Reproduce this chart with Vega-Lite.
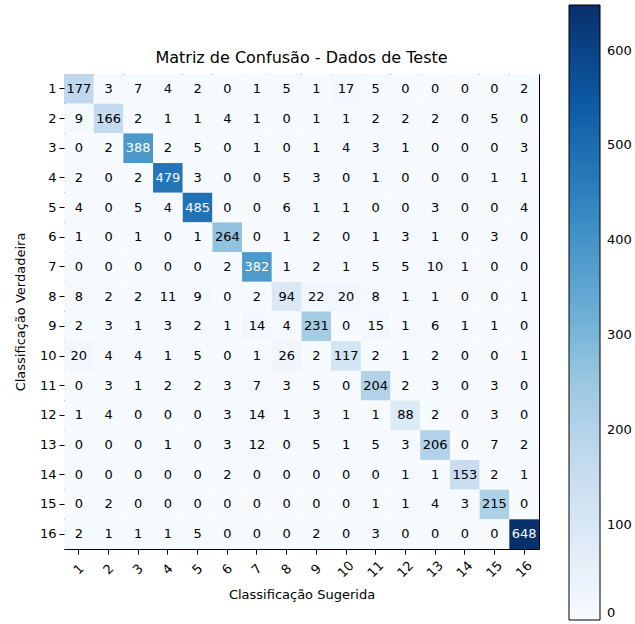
{
  "$schema": "https://vega.github.io/schema/vega-lite/v6.json",
  "autosize": "none",
  "width": 475,
  "height": 475,
  "padding": {"left": 64, "top": 74, "right": 96, "bottom": 75},
  "background": "white",
  "config": {
    "font": "DejaVu Sans",
    "view": {"stroke": "black", "strokeWidth": 1}
  },
  "title": {"text": "Matriz de Confusão - Dados de Teste", "fontSize": 16, "fontWeight": "normal", "color": "black", "offset": -61, "anchor": "middle", "frame": "group"},
  "data": {"values": [
    {"t":1,"p":1,"v":177},{"t":1,"p":2,"v":3},{"t":1,"p":3,"v":7},{"t":1,"p":4,"v":4},{"t":1,"p":5,"v":2},{"t":1,"p":6,"v":0},{"t":1,"p":7,"v":1},{"t":1,"p":8,"v":5},{"t":1,"p":9,"v":1},{"t":1,"p":10,"v":17},{"t":1,"p":11,"v":5},{"t":1,"p":12,"v":0},{"t":1,"p":13,"v":0},{"t":1,"p":14,"v":0},{"t":1,"p":15,"v":0},{"t":1,"p":16,"v":2},
    {"t":2,"p":1,"v":9},{"t":2,"p":2,"v":166},{"t":2,"p":3,"v":2},{"t":2,"p":4,"v":1},{"t":2,"p":5,"v":1},{"t":2,"p":6,"v":4},{"t":2,"p":7,"v":1},{"t":2,"p":8,"v":0},{"t":2,"p":9,"v":1},{"t":2,"p":10,"v":1},{"t":2,"p":11,"v":2},{"t":2,"p":12,"v":2},{"t":2,"p":13,"v":2},{"t":2,"p":14,"v":0},{"t":2,"p":15,"v":5},{"t":2,"p":16,"v":0},
    {"t":3,"p":1,"v":0},{"t":3,"p":2,"v":2},{"t":3,"p":3,"v":388},{"t":3,"p":4,"v":2},{"t":3,"p":5,"v":5},{"t":3,"p":6,"v":0},{"t":3,"p":7,"v":1},{"t":3,"p":8,"v":0},{"t":3,"p":9,"v":1},{"t":3,"p":10,"v":4},{"t":3,"p":11,"v":3},{"t":3,"p":12,"v":1},{"t":3,"p":13,"v":0},{"t":3,"p":14,"v":0},{"t":3,"p":15,"v":0},{"t":3,"p":16,"v":3},
    {"t":4,"p":1,"v":2},{"t":4,"p":2,"v":0},{"t":4,"p":3,"v":2},{"t":4,"p":4,"v":479},{"t":4,"p":5,"v":3},{"t":4,"p":6,"v":0},{"t":4,"p":7,"v":0},{"t":4,"p":8,"v":5},{"t":4,"p":9,"v":3},{"t":4,"p":10,"v":0},{"t":4,"p":11,"v":1},{"t":4,"p":12,"v":0},{"t":4,"p":13,"v":0},{"t":4,"p":14,"v":0},{"t":4,"p":15,"v":1},{"t":4,"p":16,"v":1},
    {"t":5,"p":1,"v":4},{"t":5,"p":2,"v":0},{"t":5,"p":3,"v":5},{"t":5,"p":4,"v":4},{"t":5,"p":5,"v":485},{"t":5,"p":6,"v":0},{"t":5,"p":7,"v":0},{"t":5,"p":8,"v":6},{"t":5,"p":9,"v":1},{"t":5,"p":10,"v":1},{"t":5,"p":11,"v":0},{"t":5,"p":12,"v":0},{"t":5,"p":13,"v":3},{"t":5,"p":14,"v":0},{"t":5,"p":15,"v":0},{"t":5,"p":16,"v":4},
    {"t":6,"p":1,"v":1},{"t":6,"p":2,"v":0},{"t":6,"p":3,"v":1},{"t":6,"p":4,"v":0},{"t":6,"p":5,"v":1},{"t":6,"p":6,"v":264},{"t":6,"p":7,"v":0},{"t":6,"p":8,"v":1},{"t":6,"p":9,"v":2},{"t":6,"p":10,"v":0},{"t":6,"p":11,"v":1},{"t":6,"p":12,"v":3},{"t":6,"p":13,"v":1},{"t":6,"p":14,"v":0},{"t":6,"p":15,"v":3},{"t":6,"p":16,"v":0},
    {"t":7,"p":1,"v":0},{"t":7,"p":2,"v":0},{"t":7,"p":3,"v":0},{"t":7,"p":4,"v":0},{"t":7,"p":5,"v":0},{"t":7,"p":6,"v":2},{"t":7,"p":7,"v":382},{"t":7,"p":8,"v":1},{"t":7,"p":9,"v":2},{"t":7,"p":10,"v":1},{"t":7,"p":11,"v":5},{"t":7,"p":12,"v":5},{"t":7,"p":13,"v":10},{"t":7,"p":14,"v":1},{"t":7,"p":15,"v":0},{"t":7,"p":16,"v":0},
    {"t":8,"p":1,"v":8},{"t":8,"p":2,"v":2},{"t":8,"p":3,"v":2},{"t":8,"p":4,"v":11},{"t":8,"p":5,"v":9},{"t":8,"p":6,"v":0},{"t":8,"p":7,"v":2},{"t":8,"p":8,"v":94},{"t":8,"p":9,"v":22},{"t":8,"p":10,"v":20},{"t":8,"p":11,"v":8},{"t":8,"p":12,"v":1},{"t":8,"p":13,"v":1},{"t":8,"p":14,"v":0},{"t":8,"p":15,"v":0},{"t":8,"p":16,"v":1},
    {"t":9,"p":1,"v":2},{"t":9,"p":2,"v":3},{"t":9,"p":3,"v":1},{"t":9,"p":4,"v":3},{"t":9,"p":5,"v":2},{"t":9,"p":6,"v":1},{"t":9,"p":7,"v":14},{"t":9,"p":8,"v":4},{"t":9,"p":9,"v":231},{"t":9,"p":10,"v":0},{"t":9,"p":11,"v":15},{"t":9,"p":12,"v":1},{"t":9,"p":13,"v":6},{"t":9,"p":14,"v":1},{"t":9,"p":15,"v":1},{"t":9,"p":16,"v":0},
    {"t":10,"p":1,"v":20},{"t":10,"p":2,"v":4},{"t":10,"p":3,"v":4},{"t":10,"p":4,"v":1},{"t":10,"p":5,"v":5},{"t":10,"p":6,"v":0},{"t":10,"p":7,"v":1},{"t":10,"p":8,"v":26},{"t":10,"p":9,"v":2},{"t":10,"p":10,"v":117},{"t":10,"p":11,"v":2},{"t":10,"p":12,"v":1},{"t":10,"p":13,"v":2},{"t":10,"p":14,"v":0},{"t":10,"p":15,"v":0},{"t":10,"p":16,"v":1},
    {"t":11,"p":1,"v":0},{"t":11,"p":2,"v":3},{"t":11,"p":3,"v":1},{"t":11,"p":4,"v":2},{"t":11,"p":5,"v":2},{"t":11,"p":6,"v":3},{"t":11,"p":7,"v":7},{"t":11,"p":8,"v":3},{"t":11,"p":9,"v":5},{"t":11,"p":10,"v":0},{"t":11,"p":11,"v":204},{"t":11,"p":12,"v":2},{"t":11,"p":13,"v":3},{"t":11,"p":14,"v":0},{"t":11,"p":15,"v":3},{"t":11,"p":16,"v":0},
    {"t":12,"p":1,"v":1},{"t":12,"p":2,"v":4},{"t":12,"p":3,"v":0},{"t":12,"p":4,"v":0},{"t":12,"p":5,"v":0},{"t":12,"p":6,"v":3},{"t":12,"p":7,"v":14},{"t":12,"p":8,"v":1},{"t":12,"p":9,"v":3},{"t":12,"p":10,"v":1},{"t":12,"p":11,"v":1},{"t":12,"p":12,"v":88},{"t":12,"p":13,"v":2},{"t":12,"p":14,"v":0},{"t":12,"p":15,"v":3},{"t":12,"p":16,"v":0},
    {"t":13,"p":1,"v":0},{"t":13,"p":2,"v":0},{"t":13,"p":3,"v":0},{"t":13,"p":4,"v":1},{"t":13,"p":5,"v":0},{"t":13,"p":6,"v":3},{"t":13,"p":7,"v":12},{"t":13,"p":8,"v":0},{"t":13,"p":9,"v":5},{"t":13,"p":10,"v":1},{"t":13,"p":11,"v":5},{"t":13,"p":12,"v":3},{"t":13,"p":13,"v":206},{"t":13,"p":14,"v":0},{"t":13,"p":15,"v":7},{"t":13,"p":16,"v":2},
    {"t":14,"p":1,"v":0},{"t":14,"p":2,"v":0},{"t":14,"p":3,"v":0},{"t":14,"p":4,"v":0},{"t":14,"p":5,"v":0},{"t":14,"p":6,"v":2},{"t":14,"p":7,"v":0},{"t":14,"p":8,"v":0},{"t":14,"p":9,"v":0},{"t":14,"p":10,"v":0},{"t":14,"p":11,"v":0},{"t":14,"p":12,"v":1},{"t":14,"p":13,"v":1},{"t":14,"p":14,"v":153},{"t":14,"p":15,"v":2},{"t":14,"p":16,"v":1},
    {"t":15,"p":1,"v":0},{"t":15,"p":2,"v":2},{"t":15,"p":3,"v":0},{"t":15,"p":4,"v":0},{"t":15,"p":5,"v":0},{"t":15,"p":6,"v":0},{"t":15,"p":7,"v":0},{"t":15,"p":8,"v":0},{"t":15,"p":9,"v":0},{"t":15,"p":10,"v":0},{"t":15,"p":11,"v":1},{"t":15,"p":12,"v":1},{"t":15,"p":13,"v":4},{"t":15,"p":14,"v":3},{"t":15,"p":15,"v":215},{"t":15,"p":16,"v":0},
    {"t":16,"p":1,"v":2},{"t":16,"p":2,"v":1},{"t":16,"p":3,"v":1},{"t":16,"p":4,"v":1},{"t":16,"p":5,"v":5},{"t":16,"p":6,"v":0},{"t":16,"p":7,"v":0},{"t":16,"p":8,"v":0},{"t":16,"p":9,"v":2},{"t":16,"p":10,"v":0},{"t":16,"p":11,"v":3},{"t":16,"p":12,"v":0},{"t":16,"p":13,"v":0},{"t":16,"p":14,"v":0},{"t":16,"p":15,"v":0},{"t":16,"p":16,"v":648}
  ]},
  "encoding": {
    "x": {
      "field": "p", "type": "ordinal",
      "scale": {"paddingInner": 0, "paddingOuter": 0},
      "axis": {
        "title": "Classificação Sugerida", "titleFontSize": 13, "titleFontWeight": "normal", "titleColor": "black", "titlePadding": 9,
        "labelAngle": -45, "labelAlign": "center", "labelBaseline": "middle", "labelPadding": 15,
        "labelFontSize": 13, "labelColor": "black", "tickColor": "black", "tickSize": 5, "domain": false, "grid": false
      }
    },
    "y": {
      "field": "t", "type": "ordinal",
      "scale": {"paddingInner": 0, "paddingOuter": 0},
      "axis": {
        "title": "Classificação Verdadeira", "titleFontSize": 13, "titleFontWeight": "normal", "titleColor": "black", "titlePadding": 12,
        "labelAngle": 0, "labelPadding": 3,
        "labelFontSize": 13, "labelColor": "black", "tickColor": "black", "tickSize": 5, "domain": false, "grid": false
      }
    }
  },
  "layer": [
    {
      "mark": {"type": "rect"},
      "encoding": {
        "color": {
          "field": "v", "type": "quantitative",
          "scale": {
            "domain": [0, 81, 162, 243, 324, 405, 486, 567, 648],
            "range": ["#f7fbff", "#deebf7", "#c6dbef", "#9ecae1", "#6baed6", "#4292c6", "#2171b5", "#08519c", "#08306b"]
          },
          "legend": {
            "title": null, "orient": "none", "legendX": 505, "legendY": -69, "direction": "vertical",
            "gradientLength": 615, "gradientThickness": 31, "gradientStrokeColor": "black", "gradientStrokeWidth": 1,
            "values": [0, 100, 200, 300, 400, 500, 600],
            "labelFontSize": 13, "labelColor": "black", "labelOffset": 7, "labelBaseline": "middle"
          }
        }
      }
    },
    {
      "mark": {"type": "text", "fontSize": 13},
      "encoding": {
        "text": {"field": "v", "type": "quantitative"},
        "color": {"condition": {"test": "datum.v > 324", "value": "white"}, "value": "black"}
      }
    }
  ]
}
